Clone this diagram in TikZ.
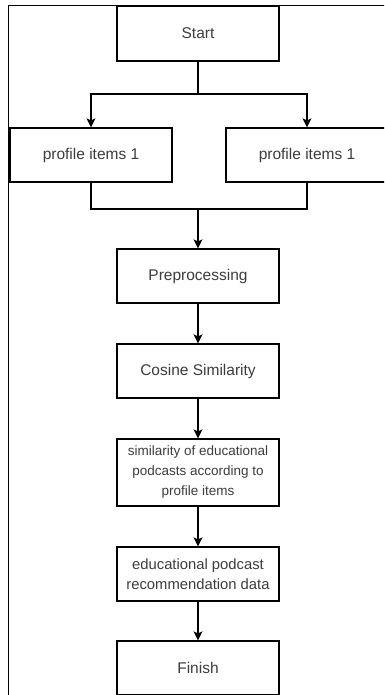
\documentclass[tikz,border=0pt]{standalone}
\usepackage{fontspec}
\setmainfont{Liberation Sans}
\usepackage{tikz}
\usetikzlibrary{arrows.meta}

\definecolor{txtgray}{HTML}{3C3C3C}

\begin{document}
\begin{tikzpicture}[x=1pt,y=-1pt,
    box/.style={draw,line width=1.2pt,minimum width=162pt,minimum height=54pt,
      inner sep=2pt,align=center,text=txtgray,font=\fontsize{15.5}{19}\selectfont},
    smallbox/.style={box,font=\fontsize{13.5}{20}\selectfont},
    midbox/.style={box,font=\fontsize{14.8}{20}\selectfont},
    flow/.style={line width=1.2pt,-{Stealth[length=9pt,width=9pt,inset=2pt]}},
    line/.style={line width=1.2pt}]
    \useasboundingbox (0,0) rectangle (384,695);
    \clip (0,0) rectangle (384,695);
    % outer frame
    \draw[line width=1.8pt] (8.5,720) -- (8.5,5.5) -- (400,5.5);
    % boxes
    \node[box,minimum height=55pt] (start) at (198,33.5) {Start};
    \node[box] (profa) at (91,155) {profile items 1};
    \node[box] (profb) at (307,155) {profile items 1};
    \node[box] (prep) at (198,276) {Preprocessing};
    \node[box] (cosine) at (198,371) {Cosine Similarity};
    \node[smallbox,minimum height=67pt] (simil) at (198,472.5)
      {similarity of educational\\podcasts according to\\profile items};
    \node[midbox] (recom) at (198,574) {educational podcast\\recommendation data};
    \node[box] (finish) at (198,668) {Finish};
    % connectors
    \coordinate (split) at (198,94);
    \coordinate (join) at (198,209);
    \draw[line] (start.south) -- (split);
    \draw[flow] (split) -| (profa.north);
    \draw[flow] (split) -| (profb.north);
    \draw[line] (profa.south) |- (join);
    \draw[line] (profb.south) |- (join);
    \draw[flow] (join) -- (prep.north);
    \draw[flow] (prep) -- (cosine);
    \draw[flow] (cosine) -- (simil);
    \draw[flow] (simil) -- (recom);
    \draw[flow] (recom) -- (finish);
\end{tikzpicture}
\end{document}
